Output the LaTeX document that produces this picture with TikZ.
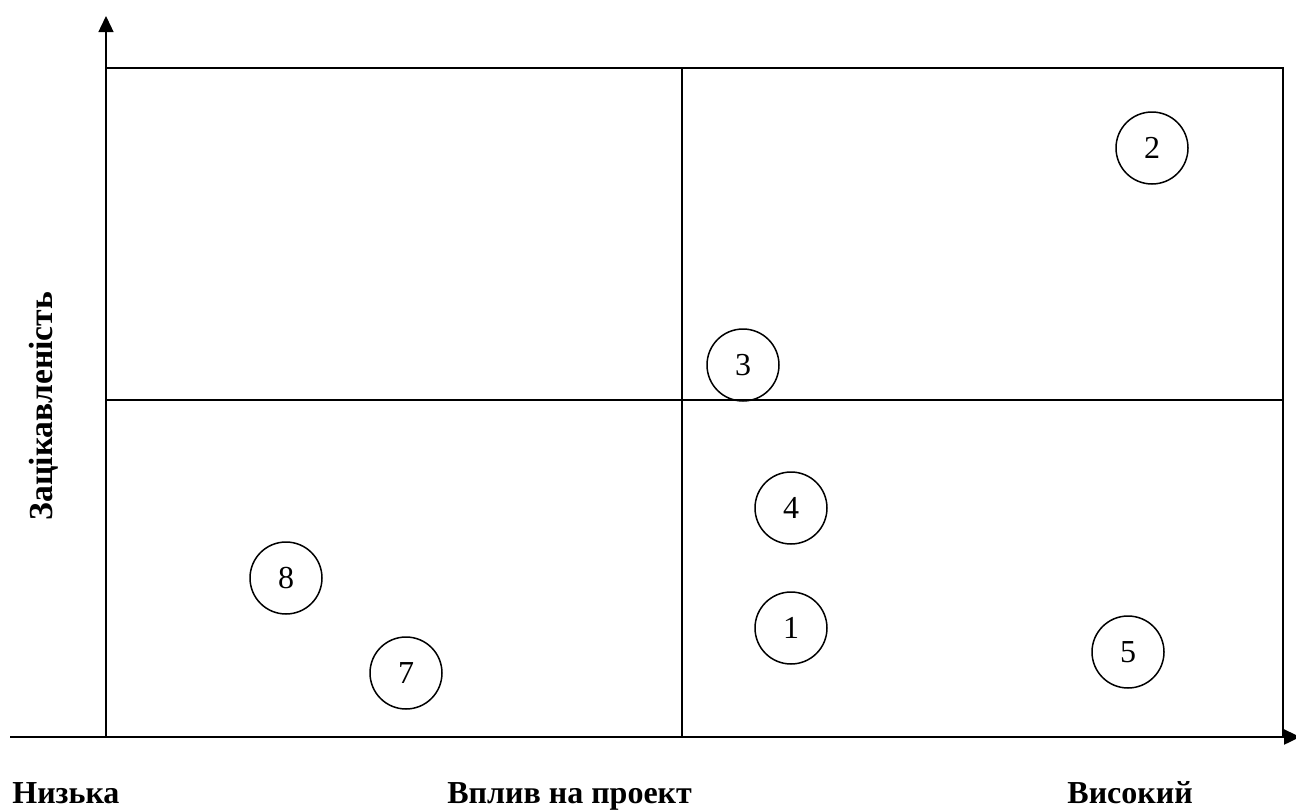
\documentclass[tikz,border=0pt]{standalone}
\usepackage{fontspec}
\setmainfont{Liberation Serif}
\usetikzlibrary{arrows.meta,positioning}
\tikzset{
  axis/.style={-{Triangle[length=8pt, width=7.5pt]}},
  frame/.style={line width=1pt},
  stake/.style={circle, draw, line width=0.75pt, minimum size=36pt, inner sep=0pt, font=\fontsize{16}{19}\selectfont},
  axis label/.style={font=\fontsize{16}{19}\selectfont\bfseries, inner sep=0pt},
}

\begin{document}
\begin{tikzpicture}[x=0.5pt, y=-0.5pt]
  \useasboundingbox (0,0) rectangle (1296,809);

  % Corners of the matrix
  \coordinate (O) at (106,737);
  \coordinate (TR) at (1283,68);
  \coordinate (xstart) at (10,737);
  \coordinate (xend) at (1300,737);
  \coordinate (ytop) at (106,16);

  % Quadrants
  \draw[frame] (O) rectangle (TR);
  \draw[frame] (682,68) -- (682,737);
  \draw[frame] (106,400) -- (1283,400);

  % Axes
  \draw[axis, line width=1.2pt] (xstart) -- (xend);
  \draw[axis, line width=0.7pt] (O) -- (ytop);

  % Stakeholders
  \node[stake] (s1) at (791,628) {1};
  \node[stake] (s2) at (1152,148) {2};
  \node[stake] (s3) at (743,365) {3};
  \node[stake] (s4) at (791,508) {4};
  \node[stake] (s5) at (1128,652) {5};
  \node[stake] (s7) at (406,673) {7};
  \node[stake] (s8) at (286,578) {8};

  % Axis labels
  \node[axis label, anchor=base west] (low) at (12,803) {Низька};
  \node[axis label, anchor=base west] (impact) at (447,803) {Вплив на проект};
  \node[axis label, anchor=base west] (high) at (1067,803) {Високий};
  \node[axis label, rotate=90, font=\fontsize{16.8}{20}\selectfont\bfseries] (interest) at (44,406) {Зацікавленість};

\end{tikzpicture}
\end{document}
